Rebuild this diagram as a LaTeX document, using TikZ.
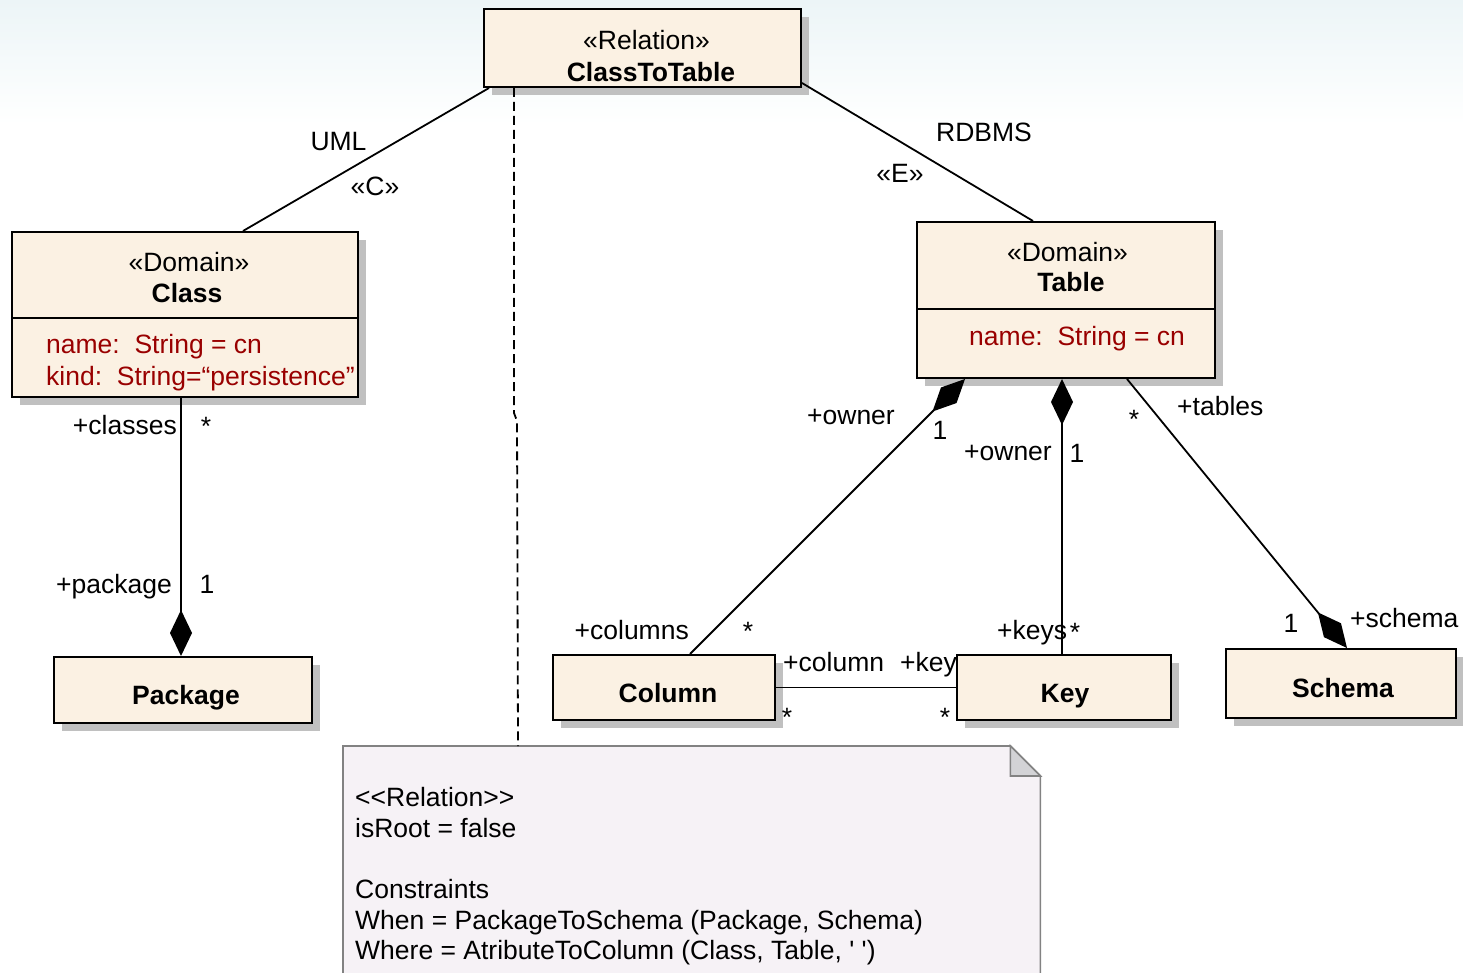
\documentclass[tikz,border=0pt]{standalone}
\usepackage{fontspec}
\setmainfont{Liberation Sans}
\usetikzlibrary{arrows.meta,shadows}

\definecolor{boxfill}{RGB}{251,241,227}
\definecolor{shadowgray}{RGB}{192,192,192}
\definecolor{attrred}{RGB}{153,0,0}
\definecolor{notefill}{RGB}{246,242,246}
\definecolor{noteedge}{RGB}{130,130,130}
\definecolor{foldfill}{RGB}{211,211,214}
\definecolor{skytop}{RGB}{236,245,247}

\begin{document}
\begin{tikzpicture}[x=1pt,y=-1pt,
  every node/.style={font=\fontsize{26.5}{31}\selectfont, inner sep=0pt},
  umlbox/.style={draw=black, line width=2pt, fill=boxfill,
    drop shadow={shadow xshift=8pt, shadow yshift=-8pt, fill=shadowgray, opacity=1}},
  lbl/.style={anchor=base},
  lblw/.style={anchor=base west},
  lble/.style={anchor=base east},
  title/.style={anchor=base, font=\fontsize{26.5}{31}\selectfont\bfseries},
  attr/.style={anchor=base west, text=attrred},
  link/.style={line width=1.8pt},
  comp/.style={line width=1.8pt, arrows={Diamond[length=46pt,width=22pt]-}},
  dashline/.style={line width=1.8pt, dash pattern=on 9pt off 5pt},
]
\useasboundingbox (0,0) rectangle (1463,973);

% pale sky band along the top
\shade[top color=skytop, bottom color=white] (0,0) rectangle (1463,125);

% class boxes
\node[umlbox, minimum width=317pt, minimum height=78pt] (ctt) at (642.5,48) {};
\node[umlbox, minimum width=346pt, minimum height=165pt] (class) at (185,314.5) {};
\node[umlbox, minimum width=298pt, minimum height=156pt] (table) at (1066,300) {};
\node[umlbox, minimum width=258pt, minimum height=66pt] (pkg) at (183,690) {};
\node[umlbox, minimum width=222pt, minimum height=65pt] (col) at (664,687.5) {};
\node[umlbox, minimum width=214pt, minimum height=65pt] (key) at (1064,687.5) {};
\node[umlbox, minimum width=230pt, minimum height=69pt] (schema) at (1341,683.5) {};

% attribute compartments
\draw[line width=2pt] ([yshift=-87pt]class.north west) -- ([yshift=-87pt]class.north east);
\draw[line width=2pt] ([yshift=-88pt]table.north west) -- ([yshift=-88pt]table.north east);

% box texts
\node[lbl] (cttst) at (646.5,50) {«Relation»};
\node[title] (cttname) at (651,82) {ClassToTable};
\node[lbl] (classst) at (189,272) {«Domain»};
\node[title] (classname) at (187,302) {Class};
\node[attr] (classa1) at (46,353) {name:\ \ String = cn};
\node[attr] (classa2) at (46,385) {kind:\ \ String=“persistence”};
\node[lbl] (tablest) at (1067.5,262) {«Domain»};
\node[title] (tablename) at (1071,292) {Table};
\node[attr] (tablea1) at (969,345) {name:\ \ String = cn};
\node[title] (pkgname) at (186,704) {Package};
\node[title] (colname) at (668,702) {Column};
\node[title] (keyname) at (1065,702) {Key};
\node[title] (schemaname) at (1343,697) {Schema};

% note with folded corner
\node[minimum width=697pt, minimum height=244pt, anchor=north west] (note) at (343,746) {};
\filldraw[fill=notefill, draw=noteedge, line width=1.6pt]
  (note.north west) -- ([xshift=-30pt]note.north east) -- ([yshift=-30pt]note.north east)
  -- (note.south east) -- (note.south west) -- cycle;
\filldraw[fill=foldfill, draw=noteedge, line width=1.6pt]
  ([xshift=-30pt]note.north east) -- ([xshift=-30pt,yshift=-30pt]note.north east)
  -- ([yshift=-30pt]note.north east) -- cycle;
\node[lblw] (nt1) at (355,806) {{<}{<}Relation{>}{>}};
\node[lblw] (nt2) at (355,837) {isRoot = false};
\node[lblw] (nt3) at (355,898) {Constraints};
\node[lblw] (nt4) at (355,929) {When = PackageToSchema (Package, Schema)};
\node[lblw] (nt5) at (355,959) {Where = AtributeToColumn (Class, Table, \textquotesingle\ \textquotesingle)};

% connectors
\draw[link] ([xshift=6pt]ctt.south west) -- ([xshift=232pt]class.north west);
\draw[link] ([yshift=5pt]ctt.south east) -- ([xshift=117pt]table.north west);
\draw[dashline] ([xshift=31pt]ctt.south west) -- ++(0,325) -- ++(3,8)
  -- ([xshift=175pt]note.north west);
\draw[comp] ([xshift=128pt]pkg.north west) -- ([xshift=170pt]class.south west);
\draw[comp] ([xshift=49pt]table.south west) -- ([xshift=138pt]col.north west);
\draw[comp] ([xshift=146pt]table.south west) -- ([xshift=106pt]key.north west);
\draw[comp] ([xshift=122pt]schema.north west) -- ([xshift=211pt]table.south west);
\draw[link] (col.east) -- (key.west);

% association labels
\node[lbl] (luml) at (338.5,151) {UML};
\node[lbl] (lc) at (375,196) {«C»};
\node[lbl] (lrdbms) at (984,142) {RDBMS};
\node[lbl] (le) at (900,183) {«E»};
\node[lble] (lclasses) at (177,434) {+classes};
\node[lbl] (lclassesm) at (206,435) {*};
\node[lble] (lpackage) at (172,593) {+package};
\node[lbl] (lpackagem) at (207,593) {1};
\node[lble] (lowner1) at (895,424) {+owner};
\node[lbl] (lowner1m) at (940,439) {1};
\node[lble] (lowner2) at (1052,460) {+owner};
\node[lbl] (lowner2m) at (1077,462) {1};
\node[lbl] (ltablesm) at (1134,428) {*};
\node[lblw] (ltables) at (1177,415) {+tables};
\node[lbl] (lschemam) at (1291,632) {1};
\node[lblw] (lschema) at (1350,627) {+schema};
\node[lble] (lcolumns) at (689,639) {+columns};
\node[lbl] (lcolumnsm) at (748,640) {*};
\node[lblw] (lkeys) at (997,639) {+keys};
\node[lbl] (lkeysm) at (1075,641) {*};
\node[lblw] (lcolumn) at (783,671) {+column};
\node[lblw] (lkey) at (900,671) {+key};
\node[lbl] (lcolumnm) at (787,726) {*};
\node[lbl] (lkeym) at (945,726) {*};
\end{tikzpicture}
\end{document}
